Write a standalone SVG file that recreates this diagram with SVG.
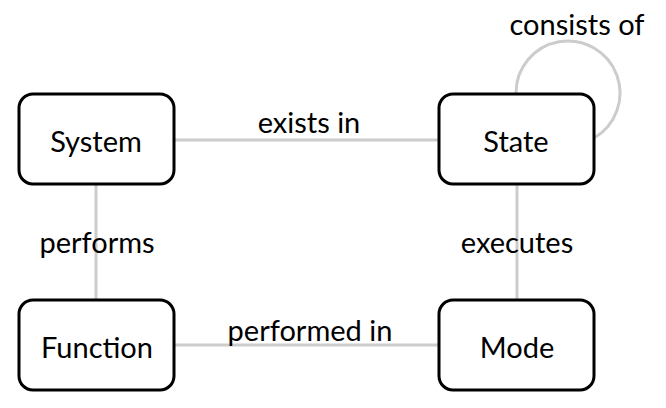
<svg xmlns="http://www.w3.org/2000/svg" width="666" height="408" viewBox="0 0 666 408">
<style>
.node rect{fill:#fff;stroke:#000;stroke-width:3}
.node text{font-family:Lato,"Open Sans",sans-serif;font-size:29px;fill:#000;text-anchor:middle}
.edge{fill:none;stroke:#cccccc;stroke-width:3}
.lbl{font-family:Lato,"Open Sans",sans-serif;font-size:29px;fill:#000;text-anchor:middle}
</style>
<rect width="666" height="408" fill="#fff"/>
<g id="connectors">
<line class="edge" x1="175" y1="140" x2="439" y2="140"/>
<line class="edge" x1="96" y1="185" x2="96" y2="300"/>
<line class="edge" x1="517" y1="185" x2="517" y2="300"/>
<line class="edge" x1="175" y1="345" x2="439" y2="345"/>
<path class="edge" d="M516,93 A52,52 0 1 1 594,138"/>
<text class="lbl" x="309" y="133">exists in</text>
<text class="lbl" x="97" y="253">performs</text>
<text class="lbl" x="517" y="253">executes</text>
<text class="lbl" x="310" y="341">performed in</text>
<text class="lbl" x="577" y="35">consists of</text>
</g>
<g id="System" class="node">
<rect x="19" y="94" width="155" height="90" rx="14"/>
<text x="96" y="152">System</text>
</g>
<g id="State" class="node">
<rect x="439" y="94" width="155" height="90" rx="14"/>
<text x="516" y="152">State</text>
</g>
<g id="Function" class="node">
<rect x="19" y="300" width="155" height="90" rx="14"/>
<text x="97" y="358">Function</text>
</g>
<g id="Mode" class="node">
<rect x="439" y="300" width="155" height="90" rx="14"/>
<text x="517" y="358">Mode</text>
</g>
</svg>
